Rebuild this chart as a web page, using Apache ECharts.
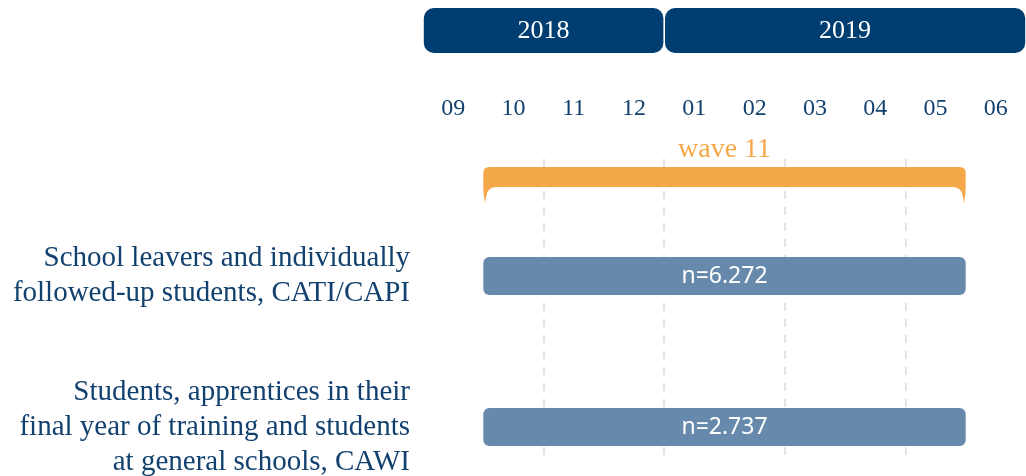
<!DOCTYPE html>
<html>
<head>
<meta charset="utf-8">
<script src="https://cdn.jsdelivr.net/npm/echarts@6/dist/echarts.min.js"></script>
<style>
  html, body { margin: 0; padding: 0; background: #fff; }
  #chart { width: 1026px; height: 476px; }
</style>
</head>
<body>
<div id="chart"></div>
<script>
// months shown on the timeline, index 0 = 09/2018
const months = ["09", "10", "11", "12", "01", "02", "03", "04", "05", "06"];

// years (start/end as month index)
const years = ["2018", "2019"];
const yearStart = [0, 4];
const yearEnd = [4, 10];

// survey wave
const waveName = "wave 11";
const waveStart = 1;
const waveEnd = 9;

// samples
const groups = [
  "School leavers and individually\nfollowed-up students, CATI/CAPI",
  "Students, apprentices in their\nfinal year of training and students\nat general schools, CAWI",
];
const groupStart = [1, 1];
const groupEnd = [9, 9];
const groupN = ["n=6.272", "n=2.737"];

const serif = "'Liberation Serif', serif";
const textColor = "#12416f";

const chart = echarts.init(document.getElementById("chart"));

const hiddenX = (gridIndex) => ({
  gridIndex: gridIndex,
  type: "value",
  min: 0,
  max: months.length,
  show: false,
});

const option = {
  animation: false,
  grid: [
    { left: 423, right: 0, top: 8, height: 45, outerBoundsMode: "none" },
    { left: 423, right: 0, top: 159, height: 296, outerBoundsMode: "none" },
    { left: 423, right: 0, top: 167, height: 36, outerBoundsMode: "none" },
    { left: 423, right: 0, top: 276, height: 151, outerBoundsMode: "none" },
  ],
  xAxis: [
    hiddenX(0),
    {
      gridIndex: 1,
      type: "value",
      min: 0,
      max: months.length,
      interval: 2,
      axisLine: { show: false },
      axisTick: { show: false },
      axisLabel: { show: false },
      splitLine: {
        show: true,
        showMinLine: false,
        showMaxLine: false,
        lineStyle: { color: "#e4e4e4", width: 2, type: [8, 8] },
      },
    },
    {
      gridIndex: 1,
      type: "category",
      position: "top",
      data: months,
      axisLine: { show: false },
      axisTick: { show: false },
      splitLine: { show: false },
      axisLabel: {
        margin: 38,
        color: textColor,
        fontFamily: serif,
        fontSize: 24,
      },
    },
    hiddenX(2),
    hiddenX(3),
  ],
  yAxis: [
    { gridIndex: 0, type: "category", data: [""], show: false },
    { gridIndex: 1, type: "value", show: false },
    { gridIndex: 2, type: "category", data: [waveName], show: false },
    {
      gridIndex: 3,
      type: "category",
      data: groups,
      inverse: true,
      boundaryGap: false,
      axisLine: { show: false },
      axisTick: { show: false },
      splitLine: { show: false },
      axisLabel: {
        margin: 13,
        color: textColor,
        fontFamily: serif,
        fontSize: 29,
        lineHeight: 35,
        align: "right",
        padding: [0, 0, 14, 0],
      },
    },
  ],
  series: [
    {
      type: "custom",
      xAxisIndex: 0,
      yAxisIndex: 0,
      data: years.map((y, i) => [yearStart[i], yearEnd[i], 0, y]),
      renderItem: (params, api) => {
        const a = api.coord([api.value(0), api.value(2)]);
        const b = api.coord([api.value(1), api.value(2)]);
        const h = api.size([0, 1])[1];
        const x0 = a[0] + 0.8;
        const x1 = b[0] - 0.8;
        return {
          type: "group",
          children: [
            {
              type: "rect",
              shape: { x: x0, y: a[1] - h / 2, width: x1 - x0, height: h, r: 10 },
              style: { fill: "#003e72" },
            },
            {
              type: "text",
              style: {
                text: years[params.dataIndex],
                x: (x0 + x1) / 2,
                y: a[1] + 1,
                align: "center",
                verticalAlign: "middle",
                fill: "#fff",
                fontFamily: serif,
                fontSize: 26,
              },
            },
          ],
        };
      },
    },
    {
      type: "custom",
      xAxisIndex: 3,
      yAxisIndex: 2,
      data: [[waveStart, waveEnd, 0]],
      renderItem: (params, api) => {
        const a = api.coord([api.value(0), api.value(2)]);
        const b = api.coord([api.value(1), api.value(2)]);
        const h = api.size([0, 1])[1];
        const x0 = a[0];
        const x1 = b[0];
        const top = a[1] - h / 2;
        const tip = a[1] + h / 2;
        const base = top + 20;
        const r = 6;
        const path =
          `M${x0} ${top + r} Q${x0} ${top} ${x0 + r} ${top} ` +
          `L${x1 - r} ${top} Q${x1} ${top} ${x1} ${top + r} ` +
          `L${x1} ${base} Q${x1} ${base + 6} ${x1 - 1.5} ${tip} ` +
          `L${x1 - 3} ${base + 9} Q${x1 - 4} ${base} ${x1 - 14} ${base} ` +
          `L${x0 + 14} ${base} Q${x0 + 4} ${base} ${x0 + 3} ${base + 9} ` +
          `L${x0 + 1.5} ${tip} Q${x0} ${base + 6} ${x0} ${base} Z`;
        return {
          type: "group",
          children: [
            {
              type: "path",
              shape: { pathData: path },
              style: { fill: "#f5a84a" },
            },
            {
              type: "text",
              style: {
                text: waveName,
                x: (x0 + x1) / 2,
                y: top - 3,
                align: "center",
                verticalAlign: "bottom",
                fill: "#f5a84a",
                fontFamily: serif,
                fontSize: 28,
              },
            },
          ],
        };
      },
    },
    {
      type: "custom",
      xAxisIndex: 4,
      yAxisIndex: 3,
      data: groups.map((g, i) => [groupStart[i], groupEnd[i], i]),
      renderItem: (params, api) => {
        const a = api.coord([api.value(0), api.value(2)]);
        const b = api.coord([api.value(1), api.value(2)]);
        const h = 38;
        return {
          type: "group",
          children: [
            {
              type: "rect",
              shape: { x: a[0], y: a[1] - h / 2, width: b[0] - a[0], height: h, r: 6 },
              style: { fill: "#678aac" },
            },
            {
              type: "text",
              style: {
                text: groupN[params.dataIndex],
                x: (a[0] + b[0]) / 2,
                y: a[1],
                align: "center",
                verticalAlign: "middle",
                fill: "#fff",
                fontFamily: "'Noto Sans', sans-serif",
                fontSize: 23,
              },
            },
          ],
        };
      },
    },
  ],
};

chart.setOption(option);
window.addEventListener("resize", () => {
  chart && chart.resize();
});
</script>
</body>
</html>
